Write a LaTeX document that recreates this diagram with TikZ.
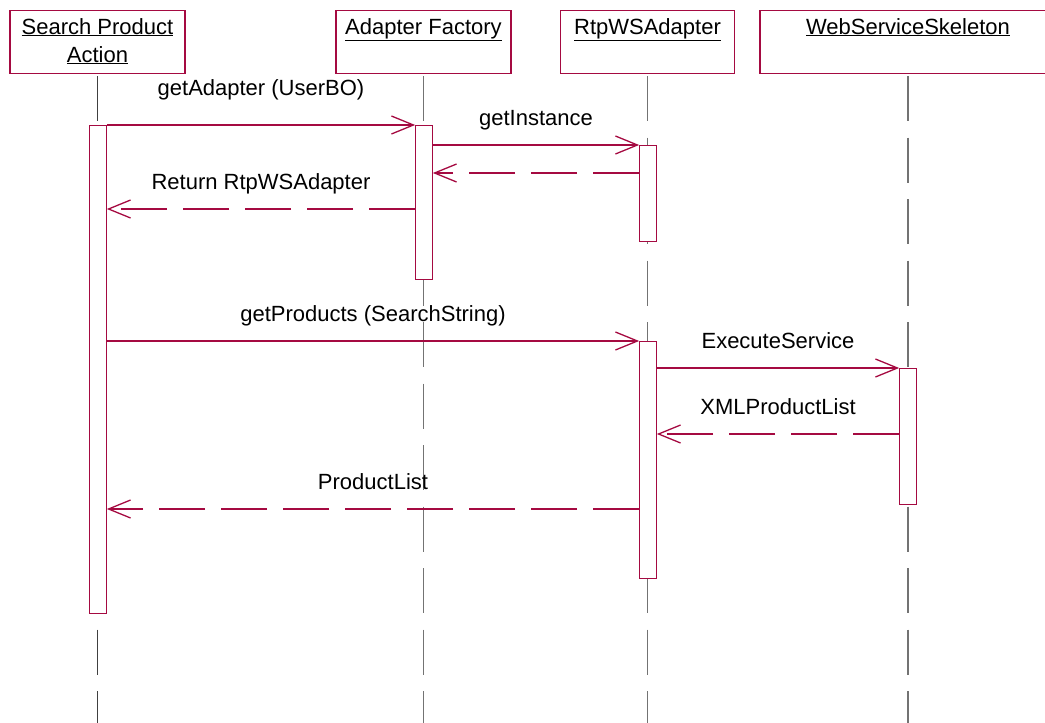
\documentclass[tikz,border=0pt]{standalone}
\usepackage{fontspec}
\setmainfont{Liberation Sans}
\usetikzlibrary{arrows.meta}

\definecolor{seqred}{RGB}{165,10,65}
\definecolor{lifegray}{RGB}{115,115,115}

\begin{document}
\begin{tikzpicture}[x=1pt, y=-1pt,
  obj/.style = {draw=seqred, line width=1.2pt, minimum height=63pt, inner sep=0pt},
  objname/.style = {font=\fontsize{22}{28}\selectfont, align=center, inner sep=0pt, anchor=north},
  life/.style = {draw=lifegray, line width=1.5pt, dash pattern=on 45pt off 16.5pt},
  act/.style = {draw=seqred, fill=white, line width=1.2pt, minimum width=16.5pt, inner sep=0pt, anchor=north},
  call/.style = {draw=seqred, line width=1.3pt, -{Straight Barb[length=22pt,width=18pt]}},
  ret/.style = {call, dash pattern=on 46pt off 16pt},
  msg/.style = {font=\fontsize{22}{24}\selectfont, inner sep=0pt, text height=15pt, text depth=5pt, midway, above=14pt}]
\useasboundingbox (0,0) rectangle (1045,723);

% objects
\node[obj, minimum width=175pt] (sa) at (97.5,42) {};
\node[obj, minimum width=175pt] (af) at (423.5,42) {};
\node[obj, minimum width=174pt] (ws) at (647.5,42) {};
\node[obj, minimum width=296pt] (sk) at (908,42) {};
\node[objname] (sa-t) at ([yshift=-8pt]sa.north) {\underline{Search Product}\\\underline{Action}};
\node[objname] (af-t) at ([yshift=-8pt]af.north) {\underline{Adapter Factory}};
\node[objname] (ws-t) at ([yshift=-8pt]ws.north) {\underline{RtpWSAdapter}};
\node[objname] (sk-t) at ([yshift=-8pt]sk.north) {\underline{WebServiceSkeleton}};

% lifelines
\coordinate (bottom) at (0,723);
\draw[life, draw=darkgray] ([yshift=-2pt]sa.south) -- (sa.south |- bottom);
\draw[life] ([yshift=-2pt]af.south) -- (af.south |- bottom);
\draw[life] ([yshift=-2pt]ws.south) -- (ws.south |- bottom);
\draw[life] ([yshift=-2pt]sk.south) -- (sk.south |- bottom);

% activations
\node[act, minimum height=488pt] (1) at (98,125) {};
\node[act, minimum height=154pt] (2) at (424,125) {};
\node[act, minimum height=96pt] (3) at (648,145) {};
\node[act, minimum height=237pt] (4) at (648,341) {};
\node[act, minimum height=136pt] (5) at (908,368) {};

% levels of the replies
\coordinate (r1) at (0,173);
\coordinate (r2) at (0,209);
\coordinate (r3) at (0,434);
\coordinate (r4) at (0,509);

% messages
\draw[call] (1.north east) -- node[msg, above=10pt]{getAdapter (UserBO)} (2.north west);
\draw[call] (2.east |- 3.north) -- node[msg]{getInstance} (3.north west);
\draw[ret] (3.west |- r1) -- (2.east |- r1);
\draw[ret] (2.west |- r2) -- node[msg]{Return RtpWSAdapter} (1.east |- r2);
\draw[call] (1.east |- 4.north) -- node[msg]{getProducts (SearchString)} (4.north west);
\draw[call] (4.east |- 5.north) -- node[msg]{ExecuteService} (5.north west);
\draw[ret] (5.west |- r3) -- node[msg]{XMLProductList} (4.east |- r3);
\draw[ret] (4.west |- r4) -- node[msg]{ProductList} (1.east |- r4);
\end{tikzpicture}
\end{document}
